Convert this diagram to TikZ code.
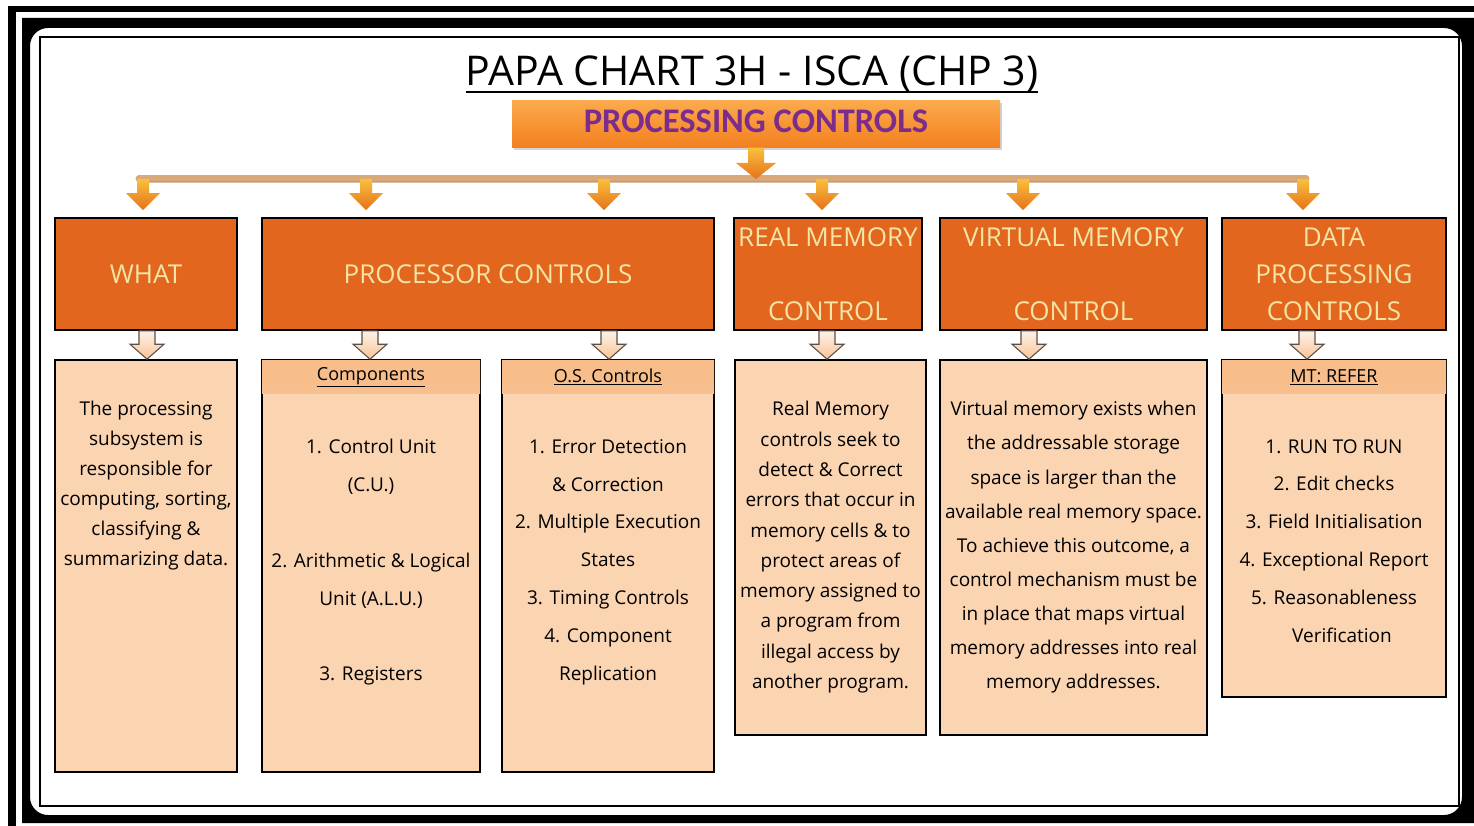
\documentclass[tikz,border=0pt]{standalone}
\usepackage{fontspec}
\setmainfont{Open Sans}
\newfontfamily\calibri{Carlito}
\usetikzlibrary{calc,shadows}
\definecolor{hdrorange}{HTML}{E2661E}
\definecolor{hdrtext}{HTML}{F4E4A6}
\definecolor{peach}{HTML}{FBD4B2}
\definecolor{peachband}{HTML}{F7BC88}
\definecolor{topA}{HTML}{FBAA4E}
\definecolor{topB}{HTML}{F3801F}
\definecolor{titlepurple}{HTML}{7B2C8C}
\definecolor{bartan}{HTML}{D9A87A}
\definecolor{bartanD}{HTML}{B8875A}
\definecolor{arrA}{HTML}{F8C03C}
\definecolor{arrB}{HTML}{E6721A}
\definecolor{harrA}{HTML}{FDF2E8}
\definecolor{harrB}{HTML}{F8C496}
\definecolor{harrline}{HTML}{5E5048}
\newcommand\blockarrow[6]{%
  \path[#1] let \p1=(#2), \p2=(#3) in
    (\x1-#4pt,\y1) -- (\x1+#4pt,\y1) -- (\x1+#4pt,\y2+#6pt) -- (\x1+#5pt,\y2+#6pt)
    -- (\x1,\y2) -- (\x1-#5pt,\y2+#6pt) -- (\x1-#4pt,\y2+#6pt) -- cycle;}
\begin{document}
\begin{tikzpicture}[x=1pt,y=-1pt,
  hdrbox/.style={draw=black,line width=1.6pt,fill=hdrorange,text=hdrtext,
    font=\fontsize{26}{37}\selectfont,align=center,inner sep=0pt,minimum height=112pt},
  cbox/.style={draw=black,line width=1.6pt,fill=peach,inner sep=0pt},
  bodytext/.style={anchor=north,align=center,inner sep=0pt,text=black},
  bandlabel/.style={inner sep=0pt,font=\fontsize{18}{20}\selectfont},
  orangearrow/.style={top color=arrA,bottom color=arrB},
  hollowarrow/.style={draw=harrline,line width=1.1pt,top color=harrA,bottom color=harrB},
  barline/.style={line width=7pt,draw=bartan,line cap=round}]
\useasboundingbox (0,0) rectangle (1474,826);
\fill[white] (0,0) rectangle (1474,826);
% frames
\fill[black] (8,6) rectangle (1474,12);
\fill[black] (8,6) rectangle (16,826);
\fill[black,even odd rule] (22,18) rectangle (1474,823)
  {[rounded corners=18pt] (30,28) rectangle (1462,815)};
\draw[line width=1.5pt] (40,37) rectangle (1459,806);

% title
\node[anchor=base,inner sep=0pt,font=\fontsize{41}{46}\selectfont] (title) at (752,86)
  {PAPA CHART 3H - ISCA (CHP 3)};
\draw[line width=2.6pt] (title.base west |- 0,92) -- (title.base east |- 0,92);

% top box
\node[minimum width=488pt,minimum height=47pt,inner sep=0pt,top color=topA,bottom color=topB,
  drop shadow={shadow xshift=2pt,shadow yshift=-3pt,opacity=0.35},
  text=titlepurple,font=\calibri\bfseries\fontsize{34.5}{38}\selectfont,text depth=5pt]
  (top) at (756,124) {PROCESSING CONTROLS};

% headers
\node[hdrbox,minimum width=182pt] (h1) at (146,274) {WHAT};
\node[hdrbox,minimum width=452pt] (h2) at (488,274) {PROCESSOR CONTROLS};
\node[hdrbox,minimum width=188pt] (h3) at (828,274) {REAL MEMORY\\[37pt]CONTROL};
\node[hdrbox,minimum width=267pt] (h4) at (1073.5,274) {VIRTUAL MEMORY\\[37pt]CONTROL};
\node[hdrbox,minimum width=224pt] (h5) at (1334,274) {DATA\\PROCESSING\\CONTROLS};

% content boxes
\node[cbox,minimum width=182pt,minimum height=412pt] (c1) at (146,566) {};
\node[cbox,minimum width=218pt,minimum height=412pt] (c2) at (371,566) {};
\node[cbox,minimum width=212pt,minimum height=412pt] (c3) at (608,566) {};
\node[cbox,minimum width=191pt,minimum height=375pt] (c4) at (830.5,547.5) {};
\node[cbox,minimum width=267pt,minimum height=375pt] (c5) at (1073.5,547.5) {};
\node[cbox,minimum width=224pt,minimum height=337pt] (c6) at (1334,528.5) {};

% bands
\foreach \c in {c2,c3,c6}{
  \fill[top color=peachband,bottom color=peachband!85!peach] ($(\c.north west)+(0.8,0.8)$) rectangle ($(\c.north east)+(-0.8,34)$);
}
\node[bandlabel] (b2) at ($(c2.north)+(0,18)$) {\underline{Components}};
\node[bandlabel] (b3) at ($(c3.north)+(0,18)$) {\underline{O.S. Controls}};
\node[bandlabel] (b6) at ($(c6.north)+(0,18)$) {\underline{MT: REFER}};

% body texts
\node[bodytext,font=\fontsize{19}{30}\selectfont] (t1) at ($(c1.north)+(0,42)$)
  {The processing\\subsystem is\\responsible for\\computing, sorting,\\classifying \&\\summarizing data.};
\node[bodytext,font=\fontsize{19}{37.8}\selectfont] (t2) at ($(c2.north)+(0,80)$)
  {1. Control Unit\\(C.U.)\\ \\2. Arithmetic \& Logical\\Unit (A.L.U.)\\ \\3. Registers};
\node[bodytext,font=\fontsize{19}{37.8}\selectfont] (t3) at ($(c3.north)+(0,80)$)
  {1. Error Detection\\\& Correction\\2. Multiple Execution\\States\\3. Timing Controls\\4. Component\\Replication};
\node[bodytext,font=\fontsize{19}{30.3}\selectfont] (t4) at ($(c4.north)+(0,42)$)
  {Real Memory\\controls seek to\\detect \& Correct\\errors that occur in\\memory cells \& to\\protect areas of\\memory assigned to\\a program from\\illegal access by\\another program.};
\node[bodytext,font=\fontsize{19}{34.1}\selectfont] (t5) at ($(c5.north)+(0,42)$)
  {Virtual memory exists when\\the addressable storage\\space is larger than the\\available real memory space.\\To achieve this outcome, a\\control mechanism must be\\in place that maps virtual\\memory addresses into real\\memory addresses.};
\node[bodytext,font=\fontsize{19}{37.8}\selectfont] (t6) at ($(c6.north)+(0,80)$)
  {1. RUN TO RUN\\2. Edit checks\\3. Field Initialisation\\4. Exceptional Report\\5. Reasonableness\\\hspace*{16pt}Verification};

% bar and orange arrows
\coordinate (barL) at (139,179);
\coordinate (barR) at (1306,179);
\draw[barline] (barL) -- (barR);
\draw[line width=1.5pt,draw=bartanD,opacity=0.5] ($(barL)+(0,3)$) -- ($(barR)+(0,3)$);
\blockarrow{orangearrow}{top.south}{top.south |- barL}{8}{20}{16}
\foreach \i/\x/\h in {1/143/h1,2/366/h2,3/604/h2,4/822/h3,5/1023/h4,6/1303/h5}{
  \coordinate (ox\i) at (\x,179);
  \blockarrow{orangearrow}{ox\i}{$(ox\i |- \h.north)+(0,-7)$}{6}{17}{17}
}
% hollow arrows
\foreach \i/\x/\h/\c in {1/147/h1/c1,2/370/h2/c2,3/609/h2/c3,4/827/h3/c4,5/1029/h4/c5,6/1307/h5/c6}{
  \coordinate (hx\i) at (\x,0);
  \blockarrow{hollowarrow}{hx\i |- \h.south}{hx\i |- \c.north}{8}{17}{15}
}
\end{tikzpicture}
\end{document}
